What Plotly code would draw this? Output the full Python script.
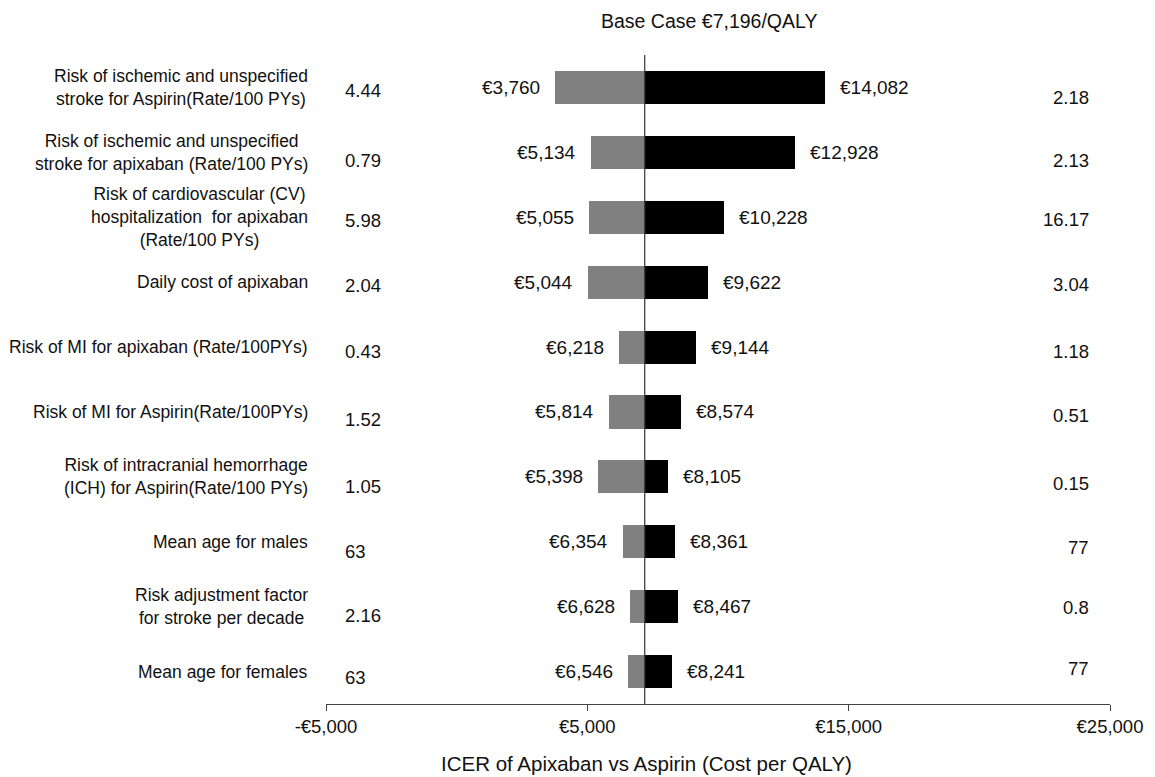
import plotly.graph_objects as go

# ---------------- data ----------------
base_case = 7196
categories = [
    "Risk of ischemic and unspecified<br>stroke for Aspirin(Rate/100 PYs)",
    "Risk of ischemic and unspecified<br>stroke for apixaban (Rate/100 PYs)",
    "Risk of cardiovascular (CV)<br>hospitalization  for apixaban<br>(Rate/100 PYs)",
    "Daily cost of apixaban",
    "Risk of MI for apixaban (Rate/100PYs)",
    "Risk of MI for Aspirin(Rate/100PYs)",
    "Risk of intracranial hemorrhage<br>(ICH) for Aspirin(Rate/100 PYs)",
    "Mean age for males",
    "Risk adjustment factor<br>for stroke per decade",
    "Mean age for females",
]
icer_low = [3760, 5134, 5055, 5044, 6218, 5814, 5398, 6354, 6628, 6546]
icer_high = [14082, 12928, 10228, 9622, 9144, 8574, 8105, 8361, 8467, 8241]
param_low = ["4.44", "0.79", "5.98", "2.04", "0.43", "1.52", "1.05", "63", "2.16", "63"]
param_high = ["2.18", "2.13", "16.17", "3.04", "1.18", "0.51", "0.15", "77", "0.8", "77"]
tick_vals = [-5000, 5000, 15000, 25000]
tick_text = ["-€5,000", "€5,000", "€15,000", "€25,000"]

# ---------------- style ----------------
FONT = "Arial, Liberation Sans, Helvetica, sans-serif"
TXT = "#111111"
low_shift = [3, 8, 3, 3, 4, 8, 10, 10, 9, 6]     # px down
high_shift = [10, 8, 2, 2, 4, 4, 7, 6, 1, -3]    # px down

ycat = list(range(len(categories)))

fig = go.Figure()
fig.add_trace(go.Bar(
    y=ycat, x=[v - base_case for v in icer_low], base=base_case,
    orientation="h", marker=dict(color="#808080", line=dict(width=0)),
    width=0.51, showlegend=False, hoverinfo="skip",
))
fig.add_trace(go.Bar(
    y=ycat, x=[v - base_case for v in icer_high], base=base_case,
    orientation="h", marker=dict(color="#000000", line=dict(width=0)),
    width=0.51, showlegend=False, hoverinfo="skip",
))

ann = []
for i, cat in enumerate(categories):
    # category labels
    ann.append(dict(xref="paper", yref="y", x=0, y=i, xshift=-16, text=cat,
                    xanchor="right", yanchor="middle", align="center", showarrow=False,
                    font=dict(family=FONT, size=17.5, color=TXT)))
    # low parameter values
    ann.append(dict(xref="paper", yref="y", x=0, y=i, xshift=17, yshift=-low_shift[i],
                    text=param_low[i], xanchor="left", yanchor="middle", showarrow=False,
                    font=dict(family=FONT, size=18.5, color=TXT)))
    # high parameter values
    ann.append(dict(xref="paper", yref="y", x=1, y=i, xshift=-19, yshift=-high_shift[i],
                    text=param_high[i], xanchor="right", yanchor="middle", showarrow=False,
                    font=dict(family=FONT, size=18.5, color=TXT)))
    # bar value labels
    ann.append(dict(xref="x", yref="y", x=icer_low[i], y=i, xshift=-13,
                    text=f"€{icer_low[i]:,}", xanchor="right", yanchor="middle",
                    showarrow=False, font=dict(family=FONT, size=19, color=TXT)))
    ann.append(dict(xref="x", yref="y", x=icer_high[i], y=i, xshift=13,
                    text=f"€{icer_high[i]:,}", xanchor="left", yanchor="middle",
                    showarrow=False, font=dict(family=FONT, size=19, color=TXT)))

# title and axis title
ann.append(dict(xref="paper", yref="paper", x=(600 - 326) / 788, y=1, yshift=34,
                text=f"Base Case €{base_case:,}/QALY", xanchor="left", yanchor="middle",
                showarrow=False, font=dict(family=FONT, size=19.5, color=TXT)))
ann.append(dict(xref="paper", yref="paper", x=(648 - 326) / 788, y=0, yshift=-59,
                text="ICER of Apixaban vs Aspirin (Cost per QALY)", xanchor="center",
                yanchor="middle", showarrow=False, font=dict(family=FONT, size=20.5, color=TXT)))

fig.update_layout(
    width=1155, height=777,
    margin=dict(l=326, r=41, t=55, b=73),
    paper_bgcolor="white", plot_bgcolor="white",
    barmode="overlay", bargap=0,
    annotations=ann,
    shapes=[dict(type="line", xref="x", yref="paper", x0=base_case, x1=base_case,
                 y0=0, y1=1, line=dict(color="#333333", width=1.2))],
    xaxis=dict(range=[-5000, 25000], tickvals=tick_vals, ticktext=tick_text,
               showgrid=False, zeroline=False, showline=True, linecolor="#444444",
               linewidth=1.2, ticks="outside", ticklen=6, tickcolor="#444444",
               tickfont=dict(family=FONT, size=18.5, color=TXT), fixedrange=True),
    yaxis=dict(range=[9.5, -0.5], showticklabels=False, showgrid=False,
               zeroline=False, showline=False, ticks="", fixedrange=True),
    font=dict(family=FONT, color=TXT),
)

fig.write_html("out.html")
